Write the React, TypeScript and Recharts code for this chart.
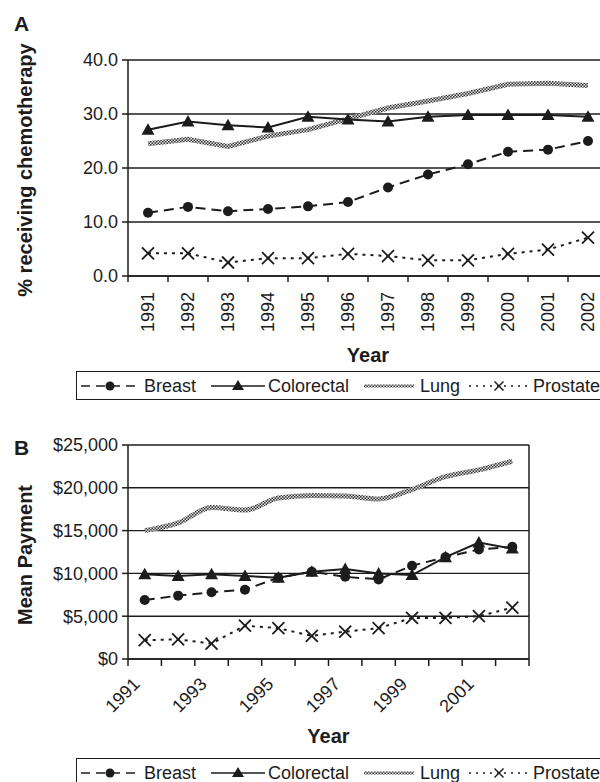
import React from 'react';
import { LineChart, Line, XAxis, YAxis, CartesianGrid, Label } from 'recharts';

const years = [1991, 1992, 1993, 1994, 1995, 1996, 1997, 1998, 1999, 2000, 2001, 2002];

// panel A: % receiving chemotherapy
const breastPct = [11.7, 12.8, 12.0, 12.4, 12.9, 13.7, 16.4, 18.8, 20.7, 23.0, 23.4, 25.0];
const colorectalPct = [27.1, 28.6, 27.9, 27.5, 29.5, 29.0, 28.6, 29.5, 29.8, 29.8, 29.8, 29.5];
const lungPct = [24.5, 25.3, 24.0, 25.9, 27.1, 29.1, 31.1, 32.4, 33.8, 35.5, 35.7, 35.3];
const prostatePct = [4.2, 4.2, 2.5, 3.3, 3.3, 4.1, 3.7, 2.9, 2.9, 4.1, 4.9, 7.1];
const pctTicks = [0, 10, 20, 30, 40];

// panel B: mean payment ($)
const breastPay = [6900, 7400, 7800, 8100, 9500, 10200, 9600, 9300, 10900, 11900, 12800, 13100];
const colorectalPay = [9900, 9700, 9900, 9700, 9500, 10200, 10500, 10000, 9800, 11900, 13600, 12900];
const lungPay = [15000, 15900, 17700, 17400, 18800, 19100, 19050, 18700, 19800, 21300, 22100, 23100];
const prostatePay = [2200, 2300, 1800, 3900, 3600, 2700, 3200, 3600, 4800, 4800, 5000, 6000];
const payTicks = [0, 5000, 10000, 15000, 20000, 25000];
const payLabelYears = years.filter((_, i) => i % 2 === 0);

const FONT = '"Liberation Sans", Arial, sans-serif';
const INK = '#1c1c1c';

const pctData = years.map((year, i) => ({
  year,
  Breast: breastPct[i],
  Colorectal: colorectalPct[i],
  Lung: lungPct[i],
  Prostate: prostatePct[i],
}));

const payData = years.map((year, i) => ({
  year,
  Breast: breastPay[i],
  Colorectal: colorectalPay[i],
  Lung: lungPay[i],
  Prostate: prostatePay[i],
}));

// ticks at category edges (x.5) plus the category centres for labels
const xTicks = [years[0] - 0.5, ...years.flatMap((y) => [y, y + 0.5])];
const xDomain = [years[0] - 0.5, years[years.length - 1] + 0.5];

const Checker = ({ id }: { id: string }) => (
  <pattern id={id} patternUnits="userSpaceOnUse" width={3} height={3}>
    <rect width={3} height={3} fill="#e2e2e2" />
    <rect width={1.5} height={1.5} fill="#333" />
    <rect x={1.5} y={1.5} width={1.5} height={1.5} fill="#333" />
  </pattern>
);

const circleDot = (p: any) => <circle key={`c${p.index}`} cx={p.cx} cy={p.cy} r={5} fill={INK} />;
const triDot = (p: any) => (
  <path key={`t${p.index}`} d={`M${p.cx},${p.cy - 6.5}L${p.cx + 6.5},${p.cy + 5}L${p.cx - 6.5},${p.cy + 5}Z`} fill={INK} />
);
const crossDot = (p: any) => (
  <g key={`x${p.index}`} stroke={INK} strokeWidth={1.8}>
    <line x1={p.cx - 6} y1={p.cy - 6} x2={p.cx + 6} y2={p.cy + 6} />
    <line x1={p.cx - 6} y1={p.cy + 6} x2={p.cx + 6} y2={p.cy - 6} />
  </g>
);

const tickText = { fontSize: 18, fill: INK, fontFamily: FONT };

const TickA = (props: any) => {
  const { x, y, payload } = props;
  if (!Number.isInteger(payload.value)) {
    return <line x1={x} x2={x} y1={y} y2={y + 6} stroke={INK} strokeWidth={1.5} />;
  }
  const ty = y + 16;
  return (
    <text x={x} y={ty} transform={`rotate(-90 ${x} ${ty})`} textAnchor="end" dominantBaseline="central" {...tickText}>
      {payload.value}
    </text>
  );
};

const TickB = (props: any) => {
  const { x, y, payload } = props;
  if (!Number.isInteger(payload.value)) {
    return <line x1={x} x2={x} y1={y} y2={y + 7} stroke={INK} strokeWidth={1.5} />;
  }
  if (!payLabelYears.includes(payload.value)) return <g />;
  const tx = x - 8;
  const ty = y + 22;
  return (
    <text x={tx} y={ty} transform={`rotate(-45 ${tx} ${ty})`} textAnchor="end" dominantBaseline="central" {...tickText}>
      {payload.value}
    </text>
  );
};

const yTitle = (text: string, cx: number, shift: number) => (props: any) => {
  const vb = props.viewBox;
  const cy = vb.y + vb.height / 2 + shift;
  return (
    <text x={cx} y={cy} transform={`rotate(-90 ${cx} ${cy})`} textAnchor="middle" dominantBaseline="central"
      fontSize={20} fontWeight="bold" fill={INK} fontFamily={FONT}>
      {text}
    </text>
  );
};

const xTitle = (dy: number) => (props: any) => {
  const vb = props.viewBox;
  return (
    <text x={vb.x + vb.width / 2} y={vb.y + dy} textAnchor="middle" fontSize={20} fontWeight="bold" fill={INK} fontFamily={FONT}>
      Year
    </text>
  );
};

const legendItems = [
  { name: 'Breast', sx: 4, sw: 58, tx: 67 },
  { name: 'Colorectal', sx: 134, sw: 54, tx: 191 },
  { name: 'Lung', sx: 287, sw: 50, tx: 343 },
  { name: 'Prostate', sx: 392, sw: 60, tx: 456 },
];

const LegendBox = ({ top, pid }: { top: number; pid: string }) => (
  <div style={{ position: 'absolute', left: 76, top, width: 560, height: 27, border: `1.5px solid ${INK}` }}>
    <svg width={560} height={27} style={{ display: 'block' }}>
      <defs>
        <Checker id={pid} />
      </defs>
      {legendItems.map((it) => {
        const cy = 14;
        const mid = it.sx + it.sw / 2;
        let sym: React.ReactNode = null;
        if (it.name === 'Breast') {
          sym = (
            <g>
              <line x1={it.sx} x2={it.sx + it.sw} y1={cy} y2={cy} stroke={INK} strokeWidth={1.6} strokeDasharray="9 6" />
              <circle cx={mid} cy={cy} r={4.5} fill={INK} />
            </g>
          );
        } else if (it.name === 'Colorectal') {
          sym = (
            <g>
              <line x1={it.sx} x2={it.sx + it.sw} y1={cy} y2={cy} stroke={INK} strokeWidth={1.6} />
              <path d={`M${mid},${cy - 6}L${mid + 6},${cy + 4}L${mid - 6},${cy + 4}Z`} fill={INK} />
            </g>
          );
        } else if (it.name === 'Lung') {
          sym = <rect x={it.sx} y={cy - 1.5} width={it.sw} height={3} fill={`url(#${pid})`} />;
        } else {
          sym = (
            <g stroke={INK}>
              <line x1={it.sx} x2={it.sx + it.sw} y1={cy} y2={cy} strokeWidth={1.6} strokeDasharray="2 5" />
              <line x1={mid - 4.5} y1={cy - 4.5} x2={mid + 4.5} y2={cy + 4.5} strokeWidth={1.4} />
              <line x1={mid - 4.5} y1={cy + 4.5} x2={mid + 4.5} y2={cy - 4.5} strokeWidth={1.4} />
            </g>
          );
        }
        return (
          <g key={it.name}>
            {sym}
            <text x={it.tx} y={cy} dominantBaseline="central" {...tickText}>
              {it.name}
            </text>
          </g>
        );
      })}
    </svg>
  </div>
);

const panelLetter = (letter: string, top: number) => (
  <div style={{ position: 'absolute', left: 14, top, fontFamily: FONT, fontWeight: 'bold', fontSize: 21, color: INK, lineHeight: 1 }}>
    {letter}
  </div>
);

const App: React.FC = () => {
  return (
    <div style={{ position: 'absolute', left: 0, top: 0, width: 600, height: 782, overflow: 'hidden', background: '#fff', fontFamily: FONT }}>
      <div style={{ position: 'absolute', left: 0, top: 0 }}>
        <LineChart width={650} height={400} data={pctData} margin={{ top: 60, right: 42, left: 0, bottom: 34 }}>
          <defs>
            <Checker id="lungA" />
          </defs>
          <CartesianGrid vertical={false} stroke={INK} strokeWidth={1.4} />
          <XAxis dataKey="year" type="number" domain={xDomain} ticks={xTicks} interval={0} height={90}
            tickSize={0} tickMargin={0} tickLine={false} axisLine={{ stroke: INK, strokeWidth: 1.5 }} tick={<TickA />}>
            <Label content={xTitle(86)} />
          </XAxis>
          <YAxis domain={[0, 40]} ticks={pctTicks} width={128} tickFormatter={(v: number) => v.toFixed(1)}
            tick={tickText} tickSize={6} tickMargin={4} tickLine={{ stroke: INK, strokeWidth: 1.5 }}
            axisLine={{ stroke: INK, strokeWidth: 1.5 }}>
            <Label content={yTitle('% receiving chemotherapy', 25, 2)} />
          </YAxis>
          <Line dataKey="Lung" type="linear" stroke="url(#lungA)" strokeWidth={5} dot={false} isAnimationActive={false} />
          <Line dataKey="Colorectal" type="linear" stroke={INK} strokeWidth={2} dot={triDot} isAnimationActive={false} />
          <Line dataKey="Breast" type="linear" stroke={INK} strokeWidth={2} strokeDasharray="10 6" dot={circleDot} isAnimationActive={false} />
          <Line dataKey="Prostate" type="linear" stroke={INK} strokeWidth={2} strokeDasharray="3 5" dot={crossDot} isAnimationActive={false} />
        </LineChart>
      </div>
      {panelLetter('A', 13)}
      <LegendBox top={371} pid="lungLegA" />

      <div style={{ position: 'absolute', left: 0, top: 400 }}>
        <LineChart width={600} height={382} data={payData} margin={{ top: 45, right: 70, left: 0, bottom: 28 }}>
          <defs>
            <Checker id="lungB" />
          </defs>
          <CartesianGrid vertical={false} stroke={INK} strokeWidth={1.4} />
          <XAxis dataKey="year" type="number" domain={xDomain} ticks={xTicks} interval={0} height={95}
            tickSize={0} tickMargin={0} tickLine={false} axisLine={{ stroke: INK, strokeWidth: 1.5 }} tick={<TickB />}>
            <Label content={xTitle(84)} />
          </XAxis>
          <YAxis domain={[0, 25000]} ticks={payTicks} width={128}
            tickFormatter={(v: number) => `$${v.toLocaleString('en-US')}`}
            tick={tickText} tickSize={6} tickMargin={4} tickLine={{ stroke: INK, strokeWidth: 1.5 }}
            axisLine={{ stroke: INK, strokeWidth: 1.5 }}>
            <Label content={yTitle('Mean Payment', 25, 3)} />
          </YAxis>
          <YAxis yAxisId="frame" orientation="right" width={1} tick={false} tickLine={false}
            axisLine={{ stroke: INK, strokeWidth: 1.5 }} />
          <Line dataKey="Lung" type="monotone" stroke="url(#lungB)" strokeWidth={5} dot={false} isAnimationActive={false} />
          <Line dataKey="Colorectal" type="linear" stroke={INK} strokeWidth={2} dot={triDot} isAnimationActive={false} />
          <Line dataKey="Breast" type="linear" stroke={INK} strokeWidth={2} strokeDasharray="10 6" dot={circleDot} isAnimationActive={false} />
          <Line dataKey="Prostate" type="linear" stroke={INK} strokeWidth={2} strokeDasharray="3 5" dot={crossDot} isAnimationActive={false} />
        </LineChart>
      </div>
      {panelLetter('B', 437)}
      <LegendBox top={758} pid="lungLegB" />
    </div>
  );
};

export default App;
